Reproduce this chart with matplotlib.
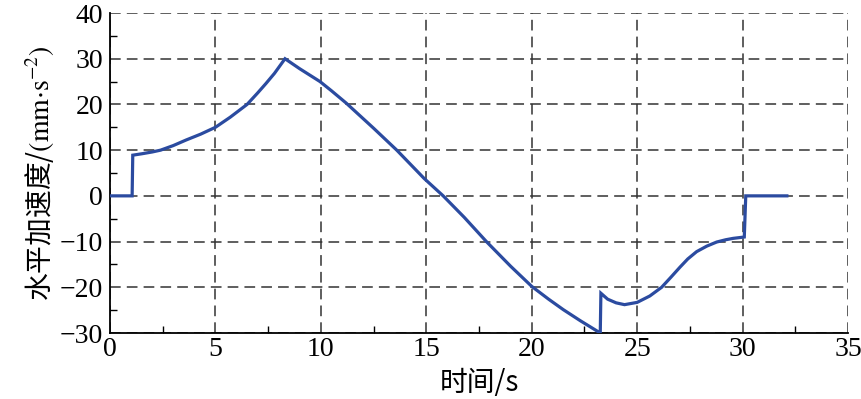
"""Horizontal acceleration vs time, recreated from a scanned figure."""

import matplotlib

matplotlib.use("Agg")
import matplotlib.pyplot as plt  # noqa: E402
from matplotlib.ticker import MultipleLocator  # noqa: E402

# values
time_s = [
    0.0, 1.05, 1.08, 1.5, 2.0, 2.4, 3.0, 3.6, 4.3, 5.0, 5.7, 6.5, 7.0, 7.4, 7.8, 8.3,
    9.0, 9.96, 10.5, 11.2, 12.5, 13.6, 14.9, 15.8, 16.8, 17.85, 19.0, 20.0, 20.8,
    21.5, 22.3, 23.25, 23.28, 23.6, 24.0, 24.4, 25.0, 25.6, 26.16, 26.6, 27.03,
    27.4, 27.82, 28.3, 28.77, 29.2, 29.55, 30.08, 30.15, 32.1,
]
accel = [
    0.0, 0.0, 8.9, 9.2, 9.6, 10.0, 11.0, 12.2, 13.5, 15.0, 17.2, 20.0, 22.5, 24.6,
    26.8, 30.0, 27.8, 25.0, 23.0, 20.3, 14.8, 10.0, 3.8, 0.0, -4.7, -10.0, -15.4,
    -19.8, -22.6, -24.9, -27.3, -30.0, -21.3, -22.6, -23.4, -23.8, -23.3, -21.9,
    -20.0, -17.8, -15.6, -13.8, -12.2, -11.0, -10.1, -9.6, -9.3, -9.0, 0.0, 0.0,
]

x_limits = (0, 35)
y_limits = (-30, 40)

plt.rcParams["font.family"] = ["Liberation Serif", "Noto Sans CJK SC"]
plt.rcParams["mathtext.fontset"] = "stix"

fig = plt.figure(figsize=(8.62, 3.99), dpi=100)
ax = fig.add_axes([0.1276, 0.1654, 0.8562, 0.802])

ax.plot(time_s, accel, color="#2b4ba0", linewidth=2.3, solid_joinstyle="miter", zorder=3)

ax.set_xlim(*x_limits)
ax.set_ylim(*y_limits)
ax.xaxis.set_major_locator(MultipleLocator(5))
ax.xaxis.set_minor_locator(MultipleLocator(2.5))
ax.yaxis.set_major_locator(MultipleLocator(10))
ax.yaxis.set_minor_locator(MultipleLocator(5))

ax.grid(True, which="major", color="#333333", linestyle=(0, (7, 4)), linewidth=1.1)
for side in ("top", "right"):
    ax.spines[side].set_visible(False)
for side in ("left", "bottom"):
    ax.spines[side].set_linewidth(1.3)

ax.tick_params(which="both", direction="in", top=False, right=False, labelsize=20)
ax.tick_params(which="major", length=0, pad=5)
ax.tick_params(which="minor", length=5, width=1)
ax.tick_params(axis="x", pad=3)

ax.set_xlabel("时间/s", fontsize=20, labelpad=4,
              family=["Noto Sans CJK SC", "Liberation Serif"])
ax.set_ylabel(r"水平加速度/$(\mathrm{mm{\cdot}s^{-2}})$", fontsize=20, labelpad=3,
              family=["Noto Sans CJK SC", "Liberation Serif"])

fig.savefig("out.png", dpi=100)
plt.close(fig)
